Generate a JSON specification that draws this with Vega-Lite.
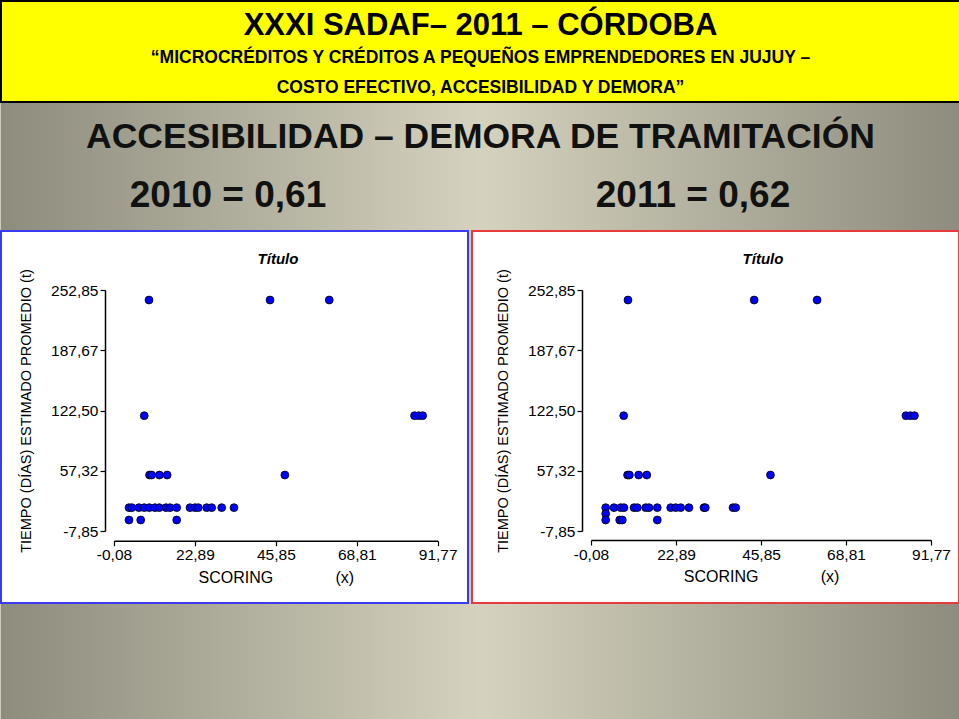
{
  "$schema": "https://vega.github.io/schema/vega-lite/v6.json",
  "padding": 0,
  "background": "#cfcdba",
  "spacing": 0,
  "config": {
    "font": "Liberation Sans",
    "view": {"stroke": null},
    "concat": {"spacing": 0},
    "axis": {"grid": false, "labelColor": "#000000", "titleColor": "#000000", "domainColor": "#000000", "tickColor": "#000000", "labelFont": "Liberation Sans", "titleFont": "Liberation Sans", "titleFontWeight": "normal"}
  },
  "datasets": {
    "scatter": [
      {"year": 2010, "scoring": 9.85, "tiempo": 242.0},
      {"year": 2010, "scoring": 44.19, "tiempo": 242.0},
      {"year": 2010, "scoring": 61.0, "tiempo": 242.0},
      {"year": 2010, "scoring": 8.5, "tiempo": 116.9},
      {"year": 2010, "scoring": 85.2, "tiempo": 116.9},
      {"year": 2010, "scoring": 86.4, "tiempo": 116.9},
      {"year": 2010, "scoring": 87.5, "tiempo": 116.9},
      {"year": 2010, "scoring": 10.0, "tiempo": 52.7},
      {"year": 2010, "scoring": 10.6, "tiempo": 52.7},
      {"year": 2010, "scoring": 12.8, "tiempo": 52.7},
      {"year": 2010, "scoring": 15.0, "tiempo": 52.7},
      {"year": 2010, "scoring": 48.4, "tiempo": 52.7},
      {"year": 2010, "scoring": 4.18, "tiempo": 17.4},
      {"year": 2010, "scoring": 5.0, "tiempo": 17.4},
      {"year": 2010, "scoring": 7.0, "tiempo": 17.4},
      {"year": 2010, "scoring": 8.52, "tiempo": 17.4},
      {"year": 2010, "scoring": 9.94, "tiempo": 17.4},
      {"year": 2010, "scoring": 11.55, "tiempo": 17.4},
      {"year": 2010, "scoring": 12.77, "tiempo": 17.4},
      {"year": 2010, "scoring": 14.68, "tiempo": 17.4},
      {"year": 2010, "scoring": 15.81, "tiempo": 17.4},
      {"year": 2010, "scoring": 17.71, "tiempo": 17.4},
      {"year": 2010, "scoring": 21.49, "tiempo": 17.4},
      {"year": 2010, "scoring": 22.9, "tiempo": 17.4},
      {"year": 2010, "scoring": 23.84, "tiempo": 17.4},
      {"year": 2010, "scoring": 26.23, "tiempo": 17.4},
      {"year": 2010, "scoring": 27.64, "tiempo": 17.4},
      {"year": 2010, "scoring": 30.48, "tiempo": 17.4},
      {"year": 2010, "scoring": 33.97, "tiempo": 17.4},
      {"year": 2010, "scoring": 4.18, "tiempo": 4.05},
      {"year": 2010, "scoring": 7.5, "tiempo": 4.05},
      {"year": 2010, "scoring": 17.71, "tiempo": 4.05},
      {"year": 2011, "scoring": 9.9, "tiempo": 242.0},
      {"year": 2011, "scoring": 44.0, "tiempo": 242.0},
      {"year": 2011, "scoring": 61.0, "tiempo": 242.0},
      {"year": 2011, "scoring": 8.75, "tiempo": 116.9},
      {"year": 2011, "scoring": 85.0, "tiempo": 116.9},
      {"year": 2011, "scoring": 86.2, "tiempo": 116.9},
      {"year": 2011, "scoring": 87.3, "tiempo": 116.9},
      {"year": 2011, "scoring": 9.8, "tiempo": 52.7},
      {"year": 2011, "scoring": 10.3, "tiempo": 52.7},
      {"year": 2011, "scoring": 12.8, "tiempo": 52.7},
      {"year": 2011, "scoring": 15.0, "tiempo": 52.7},
      {"year": 2011, "scoring": 48.4, "tiempo": 52.7},
      {"year": 2011, "scoring": 3.89, "tiempo": 17.4},
      {"year": 2011, "scoring": 6.13, "tiempo": 17.4},
      {"year": 2011, "scoring": 7.94, "tiempo": 17.4},
      {"year": 2011, "scoring": 8.83, "tiempo": 17.4},
      {"year": 2011, "scoring": 11.54, "tiempo": 17.4},
      {"year": 2011, "scoring": 12.43, "tiempo": 17.4},
      {"year": 2011, "scoring": 14.7, "tiempo": 17.4},
      {"year": 2011, "scoring": 15.59, "tiempo": 17.4},
      {"year": 2011, "scoring": 17.83, "tiempo": 17.4},
      {"year": 2011, "scoring": 21.45, "tiempo": 17.4},
      {"year": 2011, "scoring": 22.8, "tiempo": 17.4},
      {"year": 2011, "scoring": 24.15, "tiempo": 17.4},
      {"year": 2011, "scoring": 26.39, "tiempo": 17.4},
      {"year": 2011, "scoring": 30.44, "tiempo": 17.4},
      {"year": 2011, "scoring": 30.8, "tiempo": 17.4},
      {"year": 2011, "scoring": 38.28, "tiempo": 17.4},
      {"year": 2011, "scoring": 39.01, "tiempo": 17.4},
      {"year": 2011, "scoring": 3.89, "tiempo": 10.9},
      {"year": 2011, "scoring": 3.89, "tiempo": 4.05},
      {"year": 2011, "scoring": 7.67, "tiempo": 4.05},
      {"year": 2011, "scoring": 8.38, "tiempo": 4.05},
      {"year": 2011, "scoring": 17.83, "tiempo": 4.05}
    ]
  },
  "vconcat": [
    {
      "width": 959,
      "height": 101,
      "view": {"fill": "#ffff00", "stroke": "#000000", "strokeWidth": 2},
      "data": {"values": [{}]},
      "layer": [
        {"mark": {"type": "text", "text": "XXXI SADAF– 2011 – CÓRDOBA", "font": "Liberation Sans", "fontWeight": "bold", "fontSize": 31, "baseline": "middle", "align": "center", "dy": -26, "color": "#000000"}, "encoding": {}},
        {"mark": {"type": "text", "text": "“MICROCRÉDITOS Y CRÉDITOS A PEQUEÑOS EMPRENDEDORES EN JUJUY –", "font": "Liberation Sans", "fontWeight": "bold", "fontSize": 17.5, "baseline": "middle", "align": "center", "dy": 6, "color": "#000000"}, "encoding": {}},
        {"mark": {"type": "text", "text": "COSTO EFECTIVO, ACCESIBILIDAD Y DEMORA”", "font": "Liberation Sans", "fontWeight": "bold", "fontSize": 17.5, "baseline": "middle", "align": "center", "dy": 36, "color": "#000000"}, "encoding": {}}
      ]
    },
    {
      "width": 959,
      "height": 127,
      "layer": [
        {
          "data": {"values": [{}]},
          "mark": {"type": "rect", "color": {"gradient": "linear", "x1": 0, "y1": 0, "x2": 1, "y2": 0, "stops": [{"offset": 0, "color": "#8e8c7e"}, {"offset": 0.25, "color": "#b0ae9c"}, {"offset": 0.5, "color": "#d5d3bf"}, {"offset": 0.75, "color": "#b0ae9c"}, {"offset": 1, "color": "#8e8c7e"}]}},
          "encoding": {}
        },
        {
          "data": {"values": [{}]},
          "mark": {"type": "text", "text": "ACCESIBILIDAD – DEMORA DE TRAMITACIÓN", "font": "Liberation Sans", "fontWeight": "bold", "fontSize": 35.5, "baseline": "middle", "align": "center", "dy": -30, "color": "#111111"},
          "encoding": {}
        },
        {
          "data": {"values": [{"panel": "2010", "label": "2010 = 0,61"}, {"panel": "2011", "label": "2011 = 0,62"}]},
          "mark": {"type": "text", "font": "Liberation Sans", "fontWeight": "bold", "fontSize": 37, "baseline": "middle", "align": "center", "dy": 29, "color": "#111111"},
          "encoding": {
            "x": {"field": "panel", "type": "nominal", "scale": {"type": "point", "domain": ["2010", "2011"], "range": [227, 692], "padding": 0}, "axis": null},
            "text": {"field": "label"}
          }
        }
      ]
    },
    {
      "hconcat": [
        {
          "width": 467,
          "height": 372,
          "view": {"fill": "#ffffff", "stroke": "#3a3af0", "strokeWidth": 2},
          "title": {"text": "Título", "font": "Liberation Sans", "fontStyle": "italic", "fontWeight": "bold", "fontSize": 15, "color": "#000000", "anchor": "middle", "frame": "group", "offset": -36, "dx": 43.5},
          "data": {"name": "scatter"},
          "transform": [{"filter": "datum.year == 2010"}],
          "mark": {"type": "point", "shape": "circle", "filled": true, "fill": "#0000ff", "stroke": "#000000", "strokeWidth": 0.8, "size": 62, "opacity": 1},
          "encoding": {
            "x": {
              "field": "scoring", "type": "quantitative",
              "scale": {"domain": [-0.08, 91.77], "range": [113, 436.7], "nice": false, "zero": false},
              "axis": {"orient": "bottom", "offset": -62.3, "values": [-0.08, 22.89, 45.85, 68.81, 91.77], "labelExpr": "replace(replace(format(datum.value, '.2f'), '.', ','), '−', '-')", "labelFontSize": 15.5, "labelPadding": 2, "tickSize": 5, "tickWidth": 1.2, "domainWidth": 1.5, "labelFlush": false, "labelOverlap": false, "labelBound": false, "title": "SCORING\u00a0\u00a0\u00a0\u00a0\u00a0\u00a0\u00a0\u00a0\u00a0\u00a0\u00a0\u00a0\u00a0\u00a0(x)", "titleFontSize": 16, "titlePadding": 6}
            },
            "y": {
              "field": "tiempo", "type": "quantitative",
              "scale": {"domain": [-7.85, 252.85], "range": [300, 59], "nice": false, "zero": false},
              "axis": {"orient": "left", "offset": -104, "values": [-7.85, 57.32, 122.5, 187.67, 252.85], "labelExpr": "replace(replace(format(datum.value, '.2f'), '.', ','), '−', '-')", "labelFontSize": 15.5, "labelPadding": 2, "tickSize": 5, "tickWidth": 1.2, "domainWidth": 1.5, "labelFlush": false, "labelOverlap": false, "labelBound": false, "title": "TIEMPO (DÍAS) ESTIMADO PROMEDIO (t)", "titleFontSize": 14.5, "titlePadding": 17}
            }
          }
        },
        {
          "width": 487,
          "height": 372,
          "view": {"fill": "#ffffff", "stroke": "#e83a3a", "strokeWidth": 2},
          "title": {"text": "Título", "font": "Liberation Sans", "fontStyle": "italic", "fontWeight": "bold", "fontSize": 15, "color": "#000000", "anchor": "middle", "frame": "group", "offset": -36, "dx": 47.5},
          "data": {"name": "scatter"},
          "transform": [{"filter": "datum.year == 2011"}],
          "mark": {"type": "point", "shape": "circle", "filled": true, "fill": "#0000ff", "stroke": "#000000", "strokeWidth": 0.8, "size": 62, "opacity": 1},
          "encoding": {
            "x": {
              "field": "scoring", "type": "quantitative",
              "scale": {"domain": [-0.08, 91.77], "range": [119, 459], "nice": false, "zero": false},
              "axis": {"orient": "bottom", "offset": -63, "values": [-0.08, 22.89, 45.85, 68.81, 91.77], "labelExpr": "replace(replace(format(datum.value, '.2f'), '.', ','), '−', '-')", "labelFontSize": 15.5, "labelPadding": 2, "tickSize": 5, "tickWidth": 1.2, "domainWidth": 1.5, "labelFlush": false, "labelOverlap": false, "labelBound": false, "title": "SCORING\u00a0\u00a0\u00a0\u00a0\u00a0\u00a0\u00a0\u00a0\u00a0\u00a0\u00a0\u00a0\u00a0\u00a0(x)", "titleFontSize": 16, "titlePadding": 6}
            },
            "y": {
              "field": "tiempo", "type": "quantitative",
              "scale": {"domain": [-7.85, 252.85], "range": [300, 59], "nice": false, "zero": false},
              "axis": {"orient": "left", "offset": -110, "values": [-7.85, 57.32, 122.5, 187.67, 252.85], "labelExpr": "replace(replace(format(datum.value, '.2f'), '.', ','), '−', '-')", "labelFontSize": 15.5, "labelPadding": 2, "tickSize": 5, "tickWidth": 1.2, "domainWidth": 1.5, "labelFlush": false, "labelOverlap": false, "labelBound": false, "title": "TIEMPO (DÍAS) ESTIMADO PROMEDIO (t)", "titleFontSize": 14.5, "titlePadding": 17}
            }
          }
        }
      ],
      "spacing": 2
    },
    {
      "width": 959,
      "height": 115,
      "data": {"values": [{}]},
      "mark": {"type": "rect", "color": {"gradient": "linear", "x1": 0, "y1": 0, "x2": 1, "y2": 0, "stops": [{"offset": 0, "color": "#8e8c7e"}, {"offset": 0.25, "color": "#b0ae9c"}, {"offset": 0.5, "color": "#d5d3bf"}, {"offset": 0.75, "color": "#b0ae9c"}, {"offset": 1, "color": "#8e8c7e"}]}},
      "encoding": {}
    }
  ]
}
